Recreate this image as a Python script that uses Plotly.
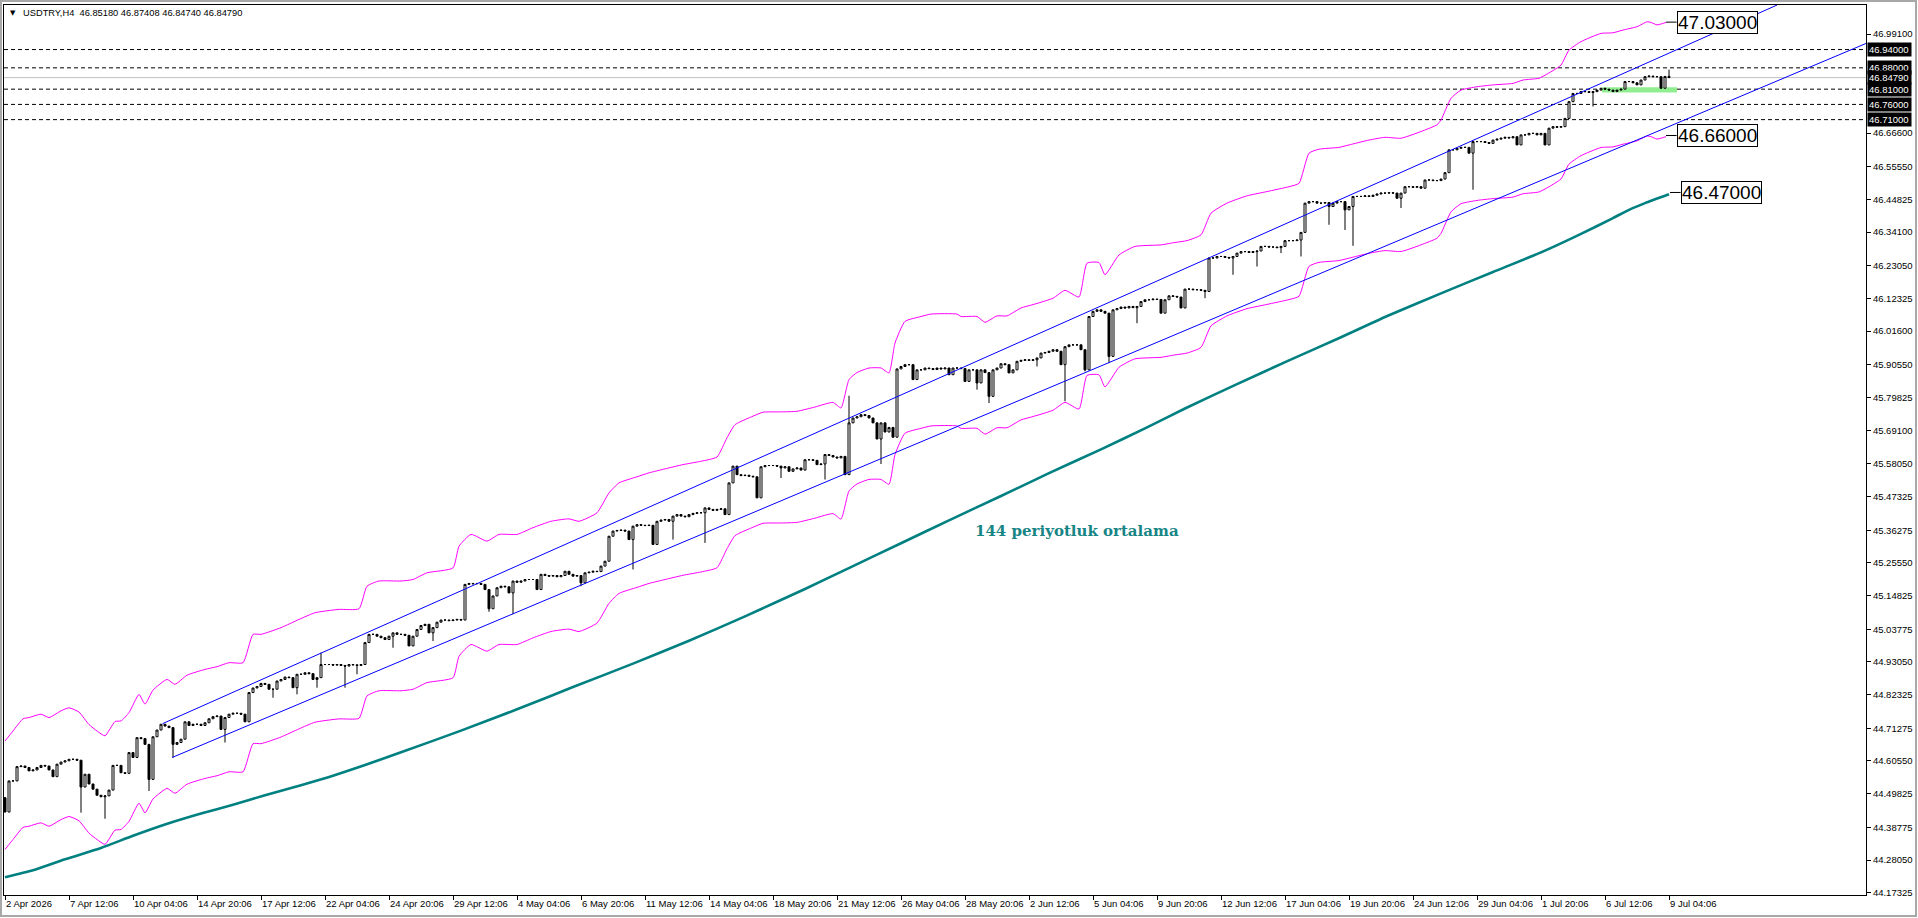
import plotly.graph_objects as go

# ---------------- data ----------------
header_text = "USDTRY,H4  46.85180 46.87408 46.84740 46.84790"

first_open = 44.485
closes = [
    44.438, 44.540, 44.540, 44.587, 44.589, 44.584, 44.573, 44.576, 44.584, 44.591,
    44.589, 44.576, 44.554, 44.595, 44.602, 44.606, 44.611, 44.611, 44.608, 44.520,
    44.562, 44.530, 44.513, 44.493, 44.488, 44.491, 44.510, 44.591, 44.591, 44.567,
    44.565, 44.633, 44.617, 44.682, 44.679, 44.660, 44.545, 44.685, 44.707, 44.726,
    44.720, 44.715, 44.660, 44.666, 44.677, 44.734, 44.722, 44.726, 44.726, 44.722,
    44.731, 44.744, 44.751, 44.753, 44.709, 44.748, 44.759, 44.762, 44.762, 44.759,
    44.734, 44.830, 44.845, 44.850, 44.860, 44.857, 44.841, 44.841, 44.868, 44.873,
    44.881, 44.879, 44.846, 44.890, 44.890, 44.895, 44.892, 44.873, 44.879, 44.922,
    44.922, 44.922, 44.920, 44.922, 44.919, 44.917, 44.922, 44.921, 44.919, 44.922,
    44.994, 45.021, 45.021, 45.015, 45.010, 45.004, 45.015, 45.026, 45.021, 45.021,
    45.018, 44.983, 45.015, 45.037, 45.050, 45.054, 45.026, 45.043, 45.061, 45.068,
    45.068, 45.066, 45.068, 45.070, 45.068, 45.185, 45.188, 45.187, 45.188, 45.185,
    45.168, 45.105, 45.147, 45.174, 45.179, 45.177, 45.157, 45.196, 45.192, 45.196,
    45.201, 45.201, 45.201, 45.168, 45.218, 45.214, 45.212, 45.214, 45.210, 45.214,
    45.228, 45.218, 45.212, 45.214, 45.190, 45.223, 45.225, 45.228, 45.227, 45.245,
    45.261, 45.343, 45.360, 45.362, 45.363, 45.360, 45.332, 45.376, 45.381, 45.379,
    45.378, 45.379, 45.316, 45.392, 45.396, 45.398, 45.392, 45.409, 45.414, 45.409,
    45.407, 45.414, 45.418, 45.420, 45.420, 45.436, 45.431, 45.428, 45.431, 45.433,
    45.414, 45.518, 45.573, 45.545, 45.542, 45.543, 45.540, 45.538, 45.469, 45.571,
    45.575, 45.575, 45.575, 45.573, 45.567, 45.571, 45.556, 45.564, 45.567, 45.560,
    45.594, 45.594, 45.592, 45.578, 45.580, 45.611, 45.608, 45.603, 45.600, 45.605,
    45.545, 45.715, 45.731, 45.735, 45.742, 45.739, 45.731, 45.715, 45.662, 45.715,
    45.685, 45.700, 45.668, 45.892, 45.900, 45.906, 45.906, 45.857, 45.889, 45.889,
    45.895, 45.893, 45.890, 45.895, 45.892, 45.895, 45.873, 45.895, 45.895, 45.893,
    45.851, 45.889, 45.889, 45.846, 45.889, 45.880, 45.802, 45.889, 45.895, 45.909,
    45.906, 45.879, 45.889, 45.917, 45.920, 45.922, 45.920, 45.922, 45.928, 45.944,
    45.946, 45.950, 45.955, 45.950, 45.906, 45.965, 45.971, 45.971, 45.971, 45.955,
    45.889, 46.064, 46.081, 46.086, 46.081, 46.075, 45.933, 46.086, 46.090, 46.095,
    46.092, 46.097, 46.093, 46.097, 46.113, 46.119, 46.119, 46.121, 46.120, 46.075,
    46.119, 46.132, 46.130, 46.128, 46.092, 46.154, 46.154, 46.152, 46.152, 46.150,
    46.146, 46.256, 46.256, 46.261, 46.261, 46.258, 46.256, 46.261, 46.272, 46.277,
    46.277, 46.274, 46.277, 46.279, 46.294, 46.294, 46.292, 46.292, 46.290, 46.294,
    46.313, 46.313, 46.313, 46.315, 46.340, 46.436, 46.441, 46.441, 46.436, 46.436,
    46.438, 46.425, 46.436, 46.441, 46.441, 46.414, 46.425, 46.458, 46.458, 46.458,
    46.460, 46.458, 46.462, 46.466, 46.469, 46.469, 46.470, 46.469, 46.452, 46.469,
    46.490, 46.490, 46.488, 46.490, 46.485, 46.512, 46.512, 46.510, 46.510, 46.515,
    46.536, 46.611, 46.611, 46.616, 46.619, 46.619, 46.600, 46.638, 46.638, 46.638,
    46.635, 46.632, 46.643, 46.646, 46.649, 46.652, 46.650, 46.654, 46.627, 46.660,
    46.660, 46.665, 46.665, 46.660, 46.665, 46.627, 46.682, 46.687, 46.685, 46.687,
    46.714, 46.769, 46.796, 46.796, 46.802, 46.802, 46.799, 46.802, 46.807, 46.813,
    46.810, 46.807, 46.802, 46.807, 46.810, 46.835, 46.835, 46.831, 46.824, 46.840,
    46.851, 46.853, 46.851, 46.851, 46.813, 46.8518, 46.8479,
]

wick_lows = {
    19: 44.436, 25: 44.416, 36: 44.507, 42: 44.616, 55: 44.666, 67: 44.813,
    73: 44.824, 78: 44.846, 85: 44.846, 88: 44.890, 97: 44.977, 107: 44.999,
    115: 45.119, 121: 45.095, 127: 45.087, 144: 45.179, 157: 45.234, 167: 45.332,
    175: 45.321, 194: 45.534, 205: 45.529, 219: 45.580, 243: 45.824, 246: 45.780,
    258: 45.900, 265: 45.786, 270: 45.884, 276: 45.911, 283: 46.042, 300: 46.124,
    307: 46.201, 313: 46.228, 319: 46.272, 324: 46.261, 331: 46.365, 335: 46.348,
    337: 46.296, 349: 46.420, 367: 46.480, 397: 46.753, 416: 46.8474,
}
wick_highs = {79: 44.961, 211: 45.804, 416: 46.87408}

date_labels = [
    "2 Apr 2026", "7 Apr 12:06", "10 Apr 04:06", "14 Apr 20:06", "17 Apr 12:06",
    "22 Apr 04:06", "24 Apr 20:06", "29 Apr 12:06", "4 May 04:06", "6 May 20:06",
    "11 May 12:06", "14 May 04:06", "18 May 20:06", "21 May 12:06", "26 May 04:06",
    "28 May 20:06", "2 Jun 12:06", "5 Jun 04:06", "9 Jun 20:06", "12 Jun 12:06",
    "17 Jun 04:06", "19 Jun 20:06", "24 Jun 12:06", "29 Jun 04:06", "1 Jul 20:06",
    "6 Jul 12:06", "9 Jul 04:06",
]
bars_per_label = 16

# Envelope (0.4 %) upper band, read at bar positions
env_upper_idx = [0, 2, 4.5, 6, 9, 11, 14, 16, 18.5, 21, 23, 25, 27.5, 29, 31, 33.5, 35, 37,
                 40.5, 42.5, 45.5, 50, 53, 56, 59.5, 62, 64, 69, 73.5, 77.5, 83.5, 88.5,
                 90.5, 93.5, 99, 102, 105.5, 112, 113.5, 116.5, 120.5, 123.5, 128, 132,
                 136.5, 141, 143.5, 148, 151, 153.5, 158, 161, 165, 169.5, 174, 178,
                 180.5, 182.5, 187, 189.5, 194, 198, 202.5, 207, 209, 211, 213, 216, 219,
                 221, 222.5, 225, 229, 231.5, 238, 239, 243, 245, 248, 250.5, 254, 257,
                 262, 265, 268.5, 270.5, 273.5, 275, 278.5, 282.5, 289, 292.5, 295.5,
                 299, 301.5, 305.5, 310.5, 315.5, 321, 323.5, 326, 328.5, 333.5, 336,
                 341, 345, 349, 354, 358, 359, 361.5, 364, 368, 372, 377, 379.5, 383.5,
                 387, 389, 391, 394, 399, 402, 404.5, 408, 410.5, 411.5, 413, 415.25]
env_upper_val = [44.671, 44.704, 44.744, 44.748, 44.759, 44.748, 44.770, 44.780, 44.766,
                 44.725, 44.704, 44.688, 44.735, 44.737, 44.764, 44.824, 44.792, 44.838,
                 44.873, 44.857, 44.887, 44.906, 44.915, 44.928, 44.928, 45.021, 45.021,
                 45.043, 45.070, 45.092, 45.103, 45.105, 45.179, 45.196, 45.196, 45.201,
                 45.223, 45.239, 45.310, 45.349, 45.327, 45.349, 45.349, 45.371, 45.392,
                 45.400, 45.392, 45.420, 45.485, 45.518, 45.538, 45.551, 45.564, 45.578,
                 45.589, 45.603, 45.666, 45.709, 45.737, 45.750, 45.751, 45.753, 45.767,
                 45.782, 45.764, 45.857, 45.880, 45.895, 45.895, 45.879, 45.977, 46.048,
                 46.064, 46.072, 46.072, 46.064, 46.064, 46.045, 46.066, 46.066, 46.092,
                 46.103, 46.124, 46.150, 46.128, 46.239, 46.241, 46.201, 46.266, 46.294,
                 46.299, 46.307, 46.313, 46.332, 46.403, 46.436, 46.460, 46.474, 46.490,
                 46.501, 46.600, 46.613, 46.619, 46.627, 46.643, 46.652, 46.649, 46.671,
                 46.693, 46.709, 46.780, 46.807, 46.818, 46.824, 46.829, 46.840, 46.846,
                 46.871, 46.889, 46.938, 46.966, 46.993, 46.995, 47.004, 47.015, 47.031,
                 47.029, 47.021, 47.029]
env_deviation = 0.004

# 144-period moving average, read at bar positions
ma144_idx = [0, 7, 15, 24, 32, 40, 49, 57, 65, 74, 82, 90, 99, 114, 128, 142, 157, 171,
             185, 200, 212, 224, 236, 249, 261, 274, 285, 295, 308, 321, 334, 346, 359,
             372, 385, 394, 402, 406, 410, 416]
ma144_val = [44.224, 44.247, 44.283, 44.320, 44.360, 44.397, 44.433, 44.462, 44.493,
             44.526, 44.557, 44.592, 44.634, 44.705, 44.775, 44.848, 44.925, 45.000,
             45.080, 45.170, 45.245, 45.320, 45.395, 45.475, 45.550, 45.628, 45.697,
             45.762, 45.842, 45.920, 45.996, 46.068, 46.140, 46.210, 46.280, 46.335,
             46.387, 46.414, 46.436, 46.465]

# trend channel lines (bar index, price) at visible ends
channel_upper_x = [39.4, 443.0]
channel_upper_y = [44.728, 47.086]
channel_lower_x = [41.8, 465.25]
channel_lower_y = [44.617, 46.960]

dashed_levels = [46.94, 46.88, 46.81, 46.76, 46.71]
bid_price = 46.84790
axis_marked = [46.94, 46.88, 46.8479, 46.81, 46.76, 46.71]
green_zone_x = [399.25, 418.0]
green_zone_y = [46.799, 46.816]

price_boxes = [("47.03000", 415.25, 417.9, 47.030),
               ("46.66000", 415.25, 417.9, 46.658),
               ("46.47000", 416.25, 418.9, 46.471)]

ytick_vals = [46.99100, 46.66600, 46.55550, 46.44825, 46.34100, 46.23050, 46.12325,
              46.01600, 45.90550, 45.79825, 45.69100, 45.58050, 45.47325, 45.36275,
              45.25550, 45.14825, 45.03775, 44.93050, 44.82325, 44.71275, 44.60550,
              44.49825, 44.38775, 44.28050, 44.17325]

ma_label = "144 periyotluk ortalama"
ma_label_pos = (268.0, 45.360)

# ---------------- derived OHLC ----------------
n = len(closes)
idx = list(range(n))
opens = [first_open] + closes[:-1]
opens[-1] = 46.85180
highs = [max(o, c) for o, c in zip(opens, closes)]
lows = [min(o, c) for o, c in zip(opens, closes)]
for k, v in wick_lows.items():
    lows[k] = min(lows[k], v)
for k, v in wick_highs.items():
    highs[k] = max(highs[k], v)

env_mid = [u / (1 + env_deviation) for u in env_upper_val]
env_lower_val = [m * (1 - env_deviation) for m in env_mid]

# ---------------- figure ----------------
W, H = 1918, 918
ML, MR, MT, MB = 4, 52, 5, 23
PW, PH = W - ML - MR, H - MT - MB

AXFONT = dict(family="Liberation Sans, Arial, sans-serif", size=9.5, color="black")

fig = go.Figure()

fig.add_trace(go.Scatter(x=ma144_idx, y=ma144_val, mode="lines",
                         line=dict(color="#008080", width=2.6, shape="spline", smoothing=0.6),
                         hoverinfo="skip"))
for band in (env_upper_val, env_lower_val):
    fig.add_trace(go.Scatter(x=env_upper_idx, y=band, mode="lines",
                             line=dict(color="#ff00ff", width=1, shape="spline", smoothing=0.5),
                             hoverinfo="skip"))
fig.add_trace(go.Scatter(x=channel_upper_x, y=channel_upper_y, mode="lines",
                         line=dict(color="#0000ff", width=1), hoverinfo="skip"))
fig.add_trace(go.Scatter(x=channel_lower_x, y=channel_lower_y, mode="lines",
                         line=dict(color="#0000ff", width=1), hoverinfo="skip"))

fig.add_trace(go.Candlestick(
    x=idx, open=opens, high=highs, low=lows, close=closes,
    increasing=dict(line=dict(color="black", width=1), fillcolor="white"),
    decreasing=dict(line=dict(color="black", width=1), fillcolor="black"),
    whiskerwidth=0, hoverinfo="skip"))

shapes = []
shapes.append(dict(type="rect", xref="x", yref="y", x0=green_zone_x[0], x1=green_zone_x[1],
                   y0=green_zone_y[0], y1=green_zone_y[1], fillcolor="#90ee90",
                   line=dict(width=0), layer="below"))
for lv in dashed_levels:
    shapes.append(dict(type="line", xref="paper", yref="y", x0=0, x1=1, y0=lv, y1=lv,
                       line=dict(color="black", width=1, dash="4px,3px"), layer="below"))
shapes.append(dict(type="line", xref="paper", yref="y", x0=0, x1=1, y0=bid_price, y1=bid_price,
                   line=dict(color="#c0c0c0", width=1), layer="below"))
for txt, xs, xe, yv in price_boxes:
    shapes.append(dict(type="line", xref="x", yref="y", x0=xs, x1=xe, y0=yv, y1=yv,
                       line=dict(color="black", width=1)))
# window frame
shapes.append(dict(type="rect", xref="paper", yref="paper",
                   x0=(1 - ML) / PW, x1=(W - 2 - ML) / PW,
                   y0=(PH + MT - (H - 2)) / PH, y1=(PH + MT - 1) / PH,
                   line=dict(color="#a8a8a8", width=2), fillcolor="rgba(0,0,0,0)"))

annotations = []
for lv in axis_marked:
    annotations.append(dict(xref="paper", yref="y", x=1, y=lv, xanchor="left", yanchor="middle",
                            xshift=1, text=f"{lv:.5f}", showarrow=False, bgcolor="black",
                            font=dict(family=AXFONT["family"], size=9.5, color="white"),
                            borderpad=1, width=41, align="left"))
for txt, xs, xe, yv in price_boxes:
    annotations.append(dict(xref="x", yref="y", x=xe, y=yv, xanchor="left", yanchor="middle",
                            text=txt, showarrow=False, bgcolor="white", bordercolor="black",
                            borderwidth=1, borderpad=0,
                            font=dict(family="Liberation Sans, Arial, sans-serif", size=19,
                                      color="black")))
annotations.append(dict(xref="x", yref="y", x=ma_label_pos[0], y=ma_label_pos[1],
                        text=ma_label, showarrow=False, xanchor="center", yanchor="middle",
                        font=dict(family="DejaVu Serif, serif", size=15, color="#178585",
                                  weight="bold")))
annotations.append(dict(xref="paper", yref="paper", x=(20.5 - ML) / PW, y=1 - 8 / PH,
                        xanchor="left", yanchor="middle", text=header_text, showarrow=False,
                        font=dict(family="Liberation Sans, Arial, sans-serif", size=9.3,
                                  color="black")))
annotations.append(dict(xref="paper", yref="paper", x=(12.5 - ML) / PW, y=1 - 8 / PH,
                        xanchor="center", yanchor="middle", text="▼", showarrow=False,
                        font=dict(family="DejaVu Sans, sans-serif", size=7, color="black")))

fig.update_layout(
    width=W, height=H,
    margin=dict(l=ML, r=MR, t=MT, b=MB, pad=0, autoexpand=False),
    paper_bgcolor="white", plot_bgcolor="white",
    showlegend=False, hovermode=False, boxgap=0.5, boxgroupgap=0,
    shapes=shapes, annotations=annotations,
    xaxis=dict(range=[-0.25, 465.25], showgrid=False, zeroline=False, showline=True,
               linecolor="black", linewidth=1, mirror=True, ticks="outside", ticklen=4,
               tickcolor="black", tickvals=[bars_per_label * k for k in range(len(date_labels))],
               ticktext=date_labels, ticklabelposition="outside right", tickangle=0,
               automargin=False, tickfont=AXFONT,
               rangeslider=dict(visible=False), fixedrange=True),
    yaxis=dict(range=[44.1657, 47.0862], side="right", showgrid=False, zeroline=False,
               showline=True, linecolor="black", linewidth=1, mirror=True, ticks="outside",
               ticklen=4, tickcolor="black", tickvals=ytick_vals, automargin=False,
               ticktext=[f"{v:.5f}" for v in ytick_vals], tickfont=AXFONT, fixedrange=True),
)

fig.write_html("out.html")
